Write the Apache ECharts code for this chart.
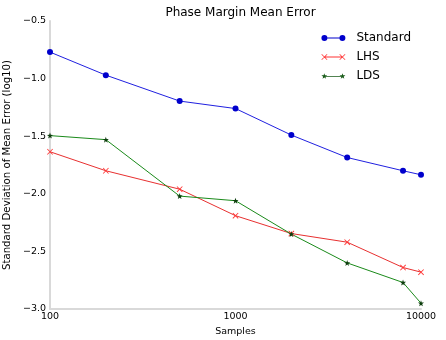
<!DOCTYPE html>
<html>
<head>
<meta charset="utf-8">
<script src="https://cdn.jsdelivr.net/npm/echarts@6/dist/echarts.min.js"></script>
<style>html,body{margin:0;padding:0;background:#fff}#c{width:446px;height:340px}</style>
</head>
<body>
<div id="c"></div>
<script>
const samples = [100, 200, 500, 1000, 2000, 4000, 8000, 10000];
const standard = [-0.77, -0.97, -1.195, -1.26, -1.49, -1.685, -1.80, -1.835];
const lhs = [-1.635, -1.80, -1.96, -2.19, -2.345, -2.42, -2.64, -2.68];
const lds = [-1.495, -1.53, -2.02, -2.06, -2.35, -2.60, -2.77, -2.95];
const seriesNames = ['Standard', 'LHS', 'LDS'];
const titleText = 'Phase Margin Mean Error';
const xName = 'Samples';
const yName = 'Standard Deviation of Mean Error (log10)';

const FONT = 'DejaVu Sans';
const pair = arr => samples.map((s, i) => [s, arr[i]]);
const starPath = 'path://M3,0 L3.705,2.029 L5.853,2.073 L4.141,3.371 L4.763,5.427 L3,4.2 L1.237,5.427 L1.859,3.371 L0.147,2.073 L2.295,2.029 Z';
const xPath = 'path://M0,0.6 L0.6,0 L6,5.4 L5.4,6 Z M0,5.4 L5.4,0 L6,0.6 L0.6,6 Z';

// legend icons: line with markers at both ends
const iconStd = 'path://M0,3 a3,3 0 1,0 6,0 a3,3 0 1,0 -6,0 Z M18,3 a3,3 0 1,0 6,0 a3,3 0 1,0 -6,0 Z M6,2.5 L18,2.5 L18,3.5 L6,3.5 Z';
const iconLhs = 'path://M0,0.5 L0.5,0 L6,5.5 L5.5,6 Z M0,5.5 L5.5,0 L6,0.5 L0.5,6 Z M18,0.5 L18.5,0 L24,5.5 L23.5,6 Z M18,5.5 L23.5,0 L24,0.5 L18.5,6 Z M3,2.6 L21,2.6 L21,3.4 L3,3.4 Z';
const iconLds = 'path://M3,0 L3.705,2.029 L5.853,2.073 L4.141,3.371 L4.763,5.427 L3,4.2 L1.237,5.427 L1.859,3.371 L0.147,2.073 L2.295,2.029 Z M21,0 L21.705,2.029 L23.853,2.073 L22.141,3.371 L22.763,5.427 L21,4.2 L19.237,5.427 L19.859,3.371 L18.147,2.073 L20.295,2.029 Z M4,2.6 L20,2.6 L20,3.4 L4,3.4 Z';

const chart = echarts.init(document.getElementById('c'), null, {renderer: 'canvas'});
chart.setOption({
  animation: false,
  backgroundColor: '#ffffff',
  textStyle: {fontFamily: FONT},
  title: {
    text: titleText, left: 235.5, top: 2, textAlign: 'center',
    textStyle: {fontFamily: FONT, fontSize: 12, fontWeight: 'normal', color: '#000'}
  },
  legend: {
    right: 30, top: 27, orient: 'vertical',
    itemWidth: 24, itemHeight: 6, itemGap: 7,
    textStyle: {fontFamily: FONT, fontSize: 12, color: '#000', padding: [0, 0, 0, 6]},
    data: [
      {name: seriesNames[0], icon: iconStd, itemStyle: {color: '#0000cc'}},
      {name: seriesNames[1], icon: iconLhs, itemStyle: {color: '#ff3333'}},
      {name: seriesNames[2], icon: iconLds, itemStyle: {color: '#1a5c1a'}}
    ]
  },
  grid: {left: 50, right: 25, top: 21, bottom: 31, containLabel: false, outerBoundsMode: 'none'},
  xAxis: {
    type: 'log', logBase: 10, min: 100, max: 10000,
    name: xName, nameLocation: 'middle', nameGap: 10,
    nameTextStyle: {fontFamily: FONT, fontSize: 9.5, color: '#000'},
    axisLine: {show: true, lineStyle: {color: '#d9d9d9', width: 2}},
    axisTick: {show: false},
    splitLine: {show: false},
    axisLabel: {fontFamily: FONT, fontSize: 9.5, color: '#000', margin: 3,
      formatter: v => String(Math.round(v))}
  },
  yAxis: {
    type: 'value', min: -3, max: -0.5, interval: 0.5,
    name: yName, nameLocation: 'middle', nameGap: 27,
    nameTextStyle: {fontFamily: FONT, fontSize: 10.2, color: '#000'},
    axisLine: {show: true, lineStyle: {color: '#d9d9d9', width: 2}},
    axisTick: {show: false},
    splitLine: {show: false},
    axisLabel: {
      fontFamily: FONT, fontSize: 9.5, color: '#000', margin: 4,
      formatter: v => v.toFixed(1).replace('-', '\u2212')
    }
  },
  series: [
    {
      name: seriesNames[0], type: 'line', data: pair(standard),
      symbol: 'circle', symbolSize: 6,
      itemStyle: {color: '#0000cc'},
      lineStyle: {color: '#2020e0', width: 1}
    },
    {
      name: seriesNames[1], type: 'line', data: pair(lhs),
      symbol: xPath, symbolSize: 6,
      itemStyle: {color: '#ff3333'},
      lineStyle: {color: '#e83030', width: 1}
    },
    {
      name: seriesNames[2], type: 'line', data: pair(lds),
      symbol: starPath, symbolSize: 6,
      itemStyle: {color: '#0d3d0d'},
      lineStyle: {color: '#1a8a1a', width: 1}
    }
  ]
});
</script>
</body>
</html>
